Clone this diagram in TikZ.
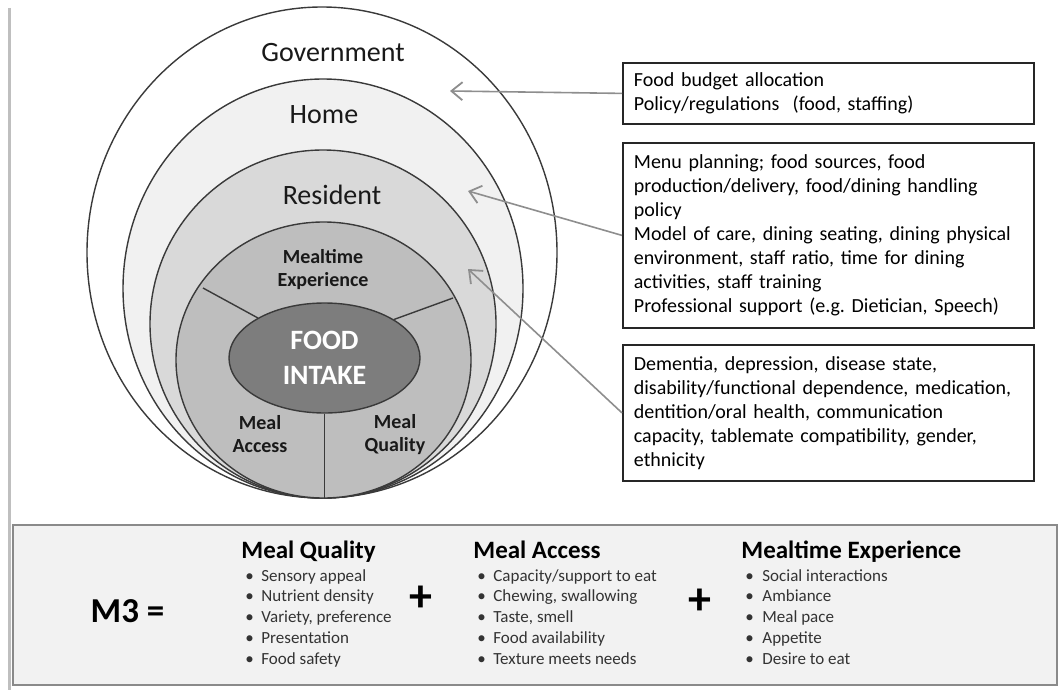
\documentclass[tikz,border=0pt]{standalone}
\usepackage{fontspec}
\setmainfont{Carlito}
\usepackage{xcolor}
\usetikzlibrary{arrows.meta,shapes.geometric}

\definecolor{ringline}{HTML}{3A3A3A}
\definecolor{homefill}{HTML}{F1F1F1}
\definecolor{residentfill}{HTML}{D9D9D9}
\definecolor{mealfill}{HTML}{BEBEBE}
\definecolor{foodfill}{HTML}{7D7D7D}
\definecolor{panelfill}{HTML}{F2F2F2}
\definecolor{paneledge}{HTML}{8A8A8A}
\definecolor{arrowgray}{HTML}{8E8E8E}

\frenchspacing
\begin{document}
\begin{tikzpicture}[x=0.5pt,y=-0.5pt,
  ring/.style={draw=ringline,line width=0.7pt},
  ringlabel/.style={font=\fontsize{14}{16}\selectfont,text=black!90},
  sectorlabel/.style={font=\bfseries\fontsize{10}{11.5}\selectfont,align=center,text=black!90},
  foodcore/.style={ellipse,draw=ringline,line width=0.7pt,fill=foodfill,minimum width=95.5pt,minimum height=55pt,
    inner sep=0pt,text=white,align=center,font=\bfseries\fontsize{14}{17.5}\selectfont},
  infobox/.style={draw=black!85,line width=0.9pt,anchor=north west,text width=194.5pt,inner xsep=5.5pt,
    align=left,text=black,font=\fontsize{10}{12}\selectfont},
  pointer/.style={draw=arrowgray,line width=0.8pt,-{Straight Barb[length=5.5pt,width=9pt,line width=0.9pt]}},
  heading/.style={anchor=base west,inner sep=0pt,font=\bfseries\fontsize{12.5}{15}\selectfont,text=black},
  entry/.style={anchor=base west,inner sep=0pt,font=\fontsize{8.5}{10}\selectfont,text=black!80},
  plussign/.style={font=\bfseries\fontsize{23}{26}\selectfont,text=black}]
  \useasboundingbox (0,0) rectangle (1059,690);

  % shadow down the left side
  \draw [black!25,line width=1.5pt] (9,8) -- (9,690);

  % nested rings, all touching at the bottom
  \draw [ring,fill=white] (322,252.5) ellipse [x radius=235,y radius=245.5];
  \draw [ring,fill=homefill] (323,288.5) ellipse [x radius=200,y radius=209.5];
  \draw [ring,fill=residentfill] (323,324) ellipse [x radius=173,y radius=174];
  \draw [ring,fill=mealfill] (323.5,360) ellipse [x radius=147.5,y radius=138];

  \node [ringlabel] (govlabel) at (333,53) {Government};
  \node [ringlabel] (homelabel) at (324,115) {Home};
  \node [ringlabel] (reslabel) at (332,195) {Resident};

  % core and the three sectors
  \node [foodcore] (food) at (324.5,358) {FOOD\\INTAKE};
  \coordinate (mtl) at (203,288);
  \coordinate (mtr) at (453,298);
  \coordinate (mtb) at (323,498);
  \draw [ring] (mtl) -- (food.149);
  \draw [ring] (mtr) -- (food.29);
  \draw [ring] (food.south) -- (food.south |- mtb);

  \node [sectorlabel] (mexp) at (323,269.5) {Mealtime\\Experience};
  \node [sectorlabel] (macc) at (260,434.5) {Meal\\Access};
  \node [sectorlabel] (mqual) at (395,434.5) {Meal\\Quality};

  % factor boxes
  \node [infobox,minimum height=30.5pt] (budgetbox) at (622,62)
    {Food budget allocation\\Policy/regulations~ (food, staffing)};
  \node [infobox,minimum height=92.5pt] (homebox) at (622,142)
    {Menu planning; food sources, food\\production/delivery, food/dining handling\\policy\\
     Model of care, dining seating, dining physical\\environment, staff ratio, time for dining\\
     activities, staff training\\Professional support (e.g. Dietician, Speech)};
  \node [infobox,minimum height=68pt] (residentbox) at (622,344)
    {Dementia, depression, disease state,\\disability/functional dependence, medication,\\
     dentition/oral health, communication\\capacity, tablemate compatibility, gender,\\ethnicity};

  \coordinate (govtip) at (450,91);
  \coordinate (hometip) at (468,191);
  \coordinate (restip) at (468,269);
  \draw [pointer] (budgetbox.west) -- (govtip);
  \draw [pointer] (homebox.west) -- (hometip);
  \draw [pointer] (residentbox.west) -- (restip);

  % M3 panel
  \draw [fill=panelfill,draw=paneledge,line width=1.2pt] (13,525) rectangle (1057,685);
  \node [font=\bfseries\fontsize{17.5}{20}\selectfont,text=black] (mthree) at (127.5,611) {M3 =};

  \node [heading] (mqhead) at (241,558.5) {Meal Quality};
  \foreach \entry [count=\k] [evaluate=\k as \y using 560.5+\k*20.7] in
    {Sensory appeal,Nutrient density,{Variety, preference},Presentation,Food safety}
  {
    \node [entry] (mqdot-\k) at (245,\y) {•};
    \node [entry] (mq-\k) at (261,\y) {\entry};
  }
  \node [plussign] (plusa) at (421,599) {+};

  \node [heading] (mahead) at (473,558.5) {Meal Access};
  \foreach \entry [count=\k] [evaluate=\k as \y using 560.5+\k*20.7] in
    {Capacity/support to eat,{Chewing, swallowing},{Taste, smell},Food availability,Texture meets needs}
  {
    \node [entry] (madot-\k) at (477,\y) {•};
    \node [entry] (ma-\k) at (493,\y) {\entry};
  }
  \node [plussign] (plusb) at (700,602) {+};

  \node [heading] (mehead) at (741,558.5) {Mealtime Experience};
  \foreach \entry [count=\k] [evaluate=\k as \y using 560.5+\k*20.7] in
    {Social interactions,Ambiance,Meal pace,Appetite,Desire to eat}
  {
    \node [entry] (medot-\k) at (745,\y) {•};
    \node [entry] (me-\k) at (762,\y) {\entry};
  }
\end{tikzpicture}
\end{document}
